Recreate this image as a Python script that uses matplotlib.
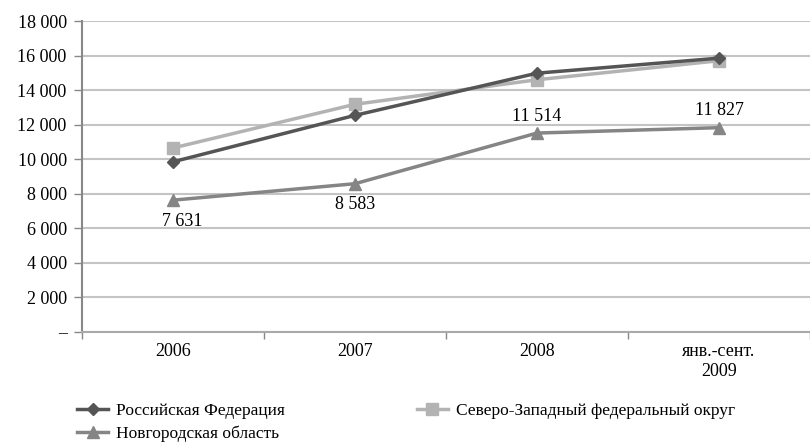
import matplotlib
matplotlib.use('Agg')
import matplotlib.pyplot as plt

plt.rcParams['font.family'] = ['Liberation Serif', 'DejaVu Serif']

# Data
categories = ['2006', '2007', '2008', 'янв.-сент.\n2009']
russia = [9850, 12540, 14980, 15850]
northwest = [10650, 13180, 14600, 15700]
novgorod = [7631, 8583, 11514, 11827]
novgorod_labels = ['7 631', '8 583', '11 514', '11 827']
yticks = [0, 2000, 4000, 6000, 8000, 10000, 12000, 14000, 16000, 18000]
ytick_labels = ['–', '2 000', '4 000', '6 000', '8 000', '10 000', '12 000', '14 000', '16 000', '18 000']

W, H = 810, 446
fig = plt.figure(figsize=(W / 100, H / 100), dpi=100)
ax = fig.add_axes([82 / W, (H - 332) / H, (W - 82) / W, 311 / H])

x = range(len(categories))
ax.plot(x, russia, color='#555555', lw=2.5, marker='D', ms=6, label='Российская Федерация', zorder=4)
ax.plot(x, novgorod, color='#858585', lw=2.5, marker='^', ms=9, label='Новгородская область', zorder=3)
ax.plot(x, northwest, color='#b3b3b3', lw=2.5, marker='s', ms=8, label='Северо-Западный федеральный округ', zorder=3)

# value labels for Novgorod region
for i, (v, t) in enumerate(zip(novgorod, novgorod_labels)):
    if i < 2:
        dx = 7 if i == 0 else 0
        ax.annotate(t, (i, v), xytext=(dx, -9), textcoords='offset points',
                    ha='center', va='top', fontsize=13)
    else:
        ax.annotate(t, (i, v), xytext=(0, 6), textcoords='offset points',
                    ha='center', va='bottom', fontsize=13)

ax.set_xlim(-0.5, -0.5 + (W - 82) / 183)
ax.set_ylim(0, 18000)
ax.set_yticks(yticks)
ax.set_yticklabels(ytick_labels, fontsize=13)
ax.set_xticks(list(x))
ax.set_xticklabels(categories, fontsize=13, linespacing=1.25)
ax.set_xticks([-0.5, 0.5, 1.5, 2.5, 3.5], minor=True)
ax.tick_params(axis='x', which='major', length=0, pad=8)
ax.tick_params(axis='x', which='minor', length=5, color='#888888', width=1)
ax.tick_params(axis='y', length=6, color='#888888', width=1, pad=5)

ax.grid(axis='y', color='#c4c4c4', lw=1.5)
ax.set_axisbelow(True)
for s in ['top', 'right']:
    ax.spines[s].set_visible(False)
ax.spines['left'].set_color('#888888')
ax.spines['left'].set_linewidth(1.5)
ax.spines['bottom'].set_color('#aaaaaa')
ax.spines['bottom'].set_linewidth(1.5)

fig.legend(loc='upper left', bbox_to_anchor=(70 / W, 1 - 396 / H), ncol=2,
           frameon=False, fontsize=12.5, handlelength=1.8, handletextpad=0.45,
           columnspacing=7.6, labelspacing=0.35, borderaxespad=0)

fig.savefig('out.png', dpi=100)
